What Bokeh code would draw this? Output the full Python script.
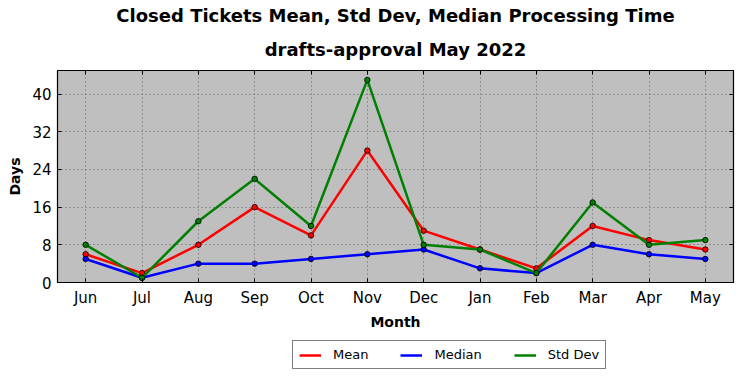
from bokeh.plotting import figure
from bokeh.models import (FixedTicker, Legend, LegendItem, Title, LinearAxis, Range1d)
from bokeh.layouts import column
from bokeh.embed import file_html
from bokeh.resources import INLINE

months = ["Jun", "Jul", "Aug", "Sep", "Oct", "Nov", "Dec", "Jan", "Feb", "Mar", "Apr", "May"]
mean = [6, 2, 8, 16, 10, 28, 11, 7, 3, 12, 9, 7]
median = [5, 1, 4, 4, 5, 6, 7, 3, 2, 8, 6, 5]
std_dev = [8, 1, 13, 22, 12, 43, 8, 7, 2, 17, 8, 9]
y_ticks = [0, 8, 16, 24, 32, 40]
series = [(mean, "red", "Mean"), (median, "blue", "Median"), (std_dev, "green", "Std Dev")]

x = list(range(len(months)))
FONT = "DejaVu Sans"

fig = figure(output_backend="svg", toolbar_location=None,
             x_range=Range1d(-0.5, 11.5), y_range=Range1d(0, 45),
             frame_width=676, frame_height=212,
             min_border_left=57, min_border_right=9, min_border_top=70, min_border_bottom=56)
fig.title = None
xa = fig.below[0]
ya = fig.left[0]

fig.background_fill_color = "#bfbfbf"
fig.border_fill_color = "white"
fig.outline_line_color = "black"
fig.outline_line_width = 1.2

# mirrored ticks on top and right (closest to the frame)
top = LinearAxis(ticker=FixedTicker(ticks=x), major_label_text_color=None,
                 major_label_text_font_size="1px",
                 major_label_standoff=0, major_tick_in=4, major_tick_out=0,
                 minor_tick_in=0, minor_tick_out=0, axis_line_color="black")
right = LinearAxis(ticker=FixedTicker(ticks=y_ticks), major_label_text_color=None,
                   major_label_text_font_size="1px",
                   major_label_standoff=0, major_tick_in=4, major_tick_out=0,
                   minor_tick_in=0, minor_tick_out=0, axis_line_color="black")
fig.add_layout(top, "above")
fig.add_layout(right, "right")

t2 = Title(text="drafts-approval May 2022", align="center", text_font=FONT,
           text_font_size="18px", text_font_style="bold", text_color="black",
           standoff=22)
t1 = Title(text="Closed Tickets Mean, Std Dev, Median Processing Time", align="center",
           text_font=FONT, text_font_size="18px", text_font_style="bold",
           text_color="black", standoff=0)
fig.add_layout(t2, "above")
fig.add_layout(t1, "above")

for ax in (xa, ya):
    ax.major_label_text_font = FONT
    ax.major_label_text_font_size = "15px"
    ax.major_label_text_color = "black"
    ax.axis_label_text_font = FONT
    ax.axis_label_text_font_size = "14px"
    ax.axis_label_text_font_style = "bold"
    ax.axis_label_text_color = "black"
    ax.major_tick_in = 4
    ax.major_tick_out = 0
    ax.minor_tick_in = 0
    ax.minor_tick_out = 0
    ax.axis_line_color = "black"
    ax.major_tick_line_color = "black"

xa.ticker = FixedTicker(ticks=x)
xa.major_label_overrides = {i: m for i, m in enumerate(months)}
xa.axis_label = "Month"
xa.major_label_standoff = 6
xa.axis_label_standoff = 4
ya.ticker = FixedTicker(ticks=y_ticks)
ya.axis_label = "Days"
ya.major_label_standoff = 6
ya.axis_label_standoff = 6

fig.xgrid.ticker = FixedTicker(ticks=x)
fig.ygrid.ticker = FixedTicker(ticks=y_ticks)
for g in (fig.xgrid[0], fig.ygrid[0]):
    g.grid_line_color = "#606060"
    g.grid_line_dash = "1 3"
    g.grid_line_width = 1

for vals, color, label in series:
    fig.line(x, vals, line_color=color, line_width=2.5)
    fig.scatter(x, vals, size=5.5, fill_color=color, line_color="black", line_width=0.8)

# legend strip below the chart (its lines lie outside its own view range)
leg_fig = figure(output_backend="svg", toolbar_location=None,
                 width=742, height=40,
                 x_range=Range1d(-0.5, 11.5), y_range=Range1d(1000, 1001),
                 min_border_left=0, min_border_right=0, min_border_top=0, min_border_bottom=0)
leg_fig.axis.visible = False
leg_fig.grid.visible = False
leg_fig.outline_line_color = None
leg_fig.background_fill_color = "white"
leg_fig.border_fill_color = "white"

items = []
for vals, color, label in series:
    r = leg_fig.line(x, vals, line_color=color, line_width=2.5)
    items.append(LegendItem(label=label, renderers=[r]))

legend = Legend(items=items, orientation="horizontal", location=(235, 9),
                label_text_font=FONT, label_text_font_size="13px", label_text_color="black",
                border_line_color="black", border_line_width=1.2,
                glyph_width=22, glyph_height=14, label_height=14,
                label_standoff=12, spacing=32,
                padding=6, margin=0, background_fill_alpha=1)
leg_fig.add_layout(legend, "center")

p = column(fig, leg_fig, spacing=0)

open("out.html", "w").write(file_html(p, INLINE))
